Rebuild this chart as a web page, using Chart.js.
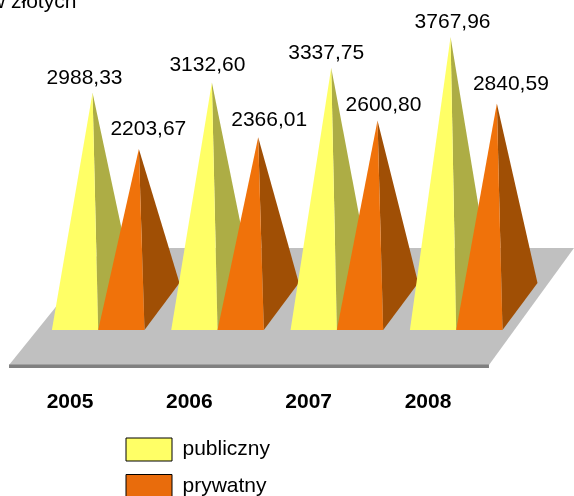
<!DOCTYPE html>
<html lang="pl">
<head>
<meta charset="utf-8">
<style>html,body{margin:0;padding:0;background:#fff}canvas{display:block}</style>
<script src="https://cdn.jsdelivr.net/npm/chart.js@4/dist/chart.umd.js"></script>
</head>
<body>
<canvas id="c" width="574" height="496"></canvas>
<script>
const years = ['2005', '2006', '2007', '2008'];
const publiczny = [2988.33, 3132.60, 3337.75, 3767.96];
const prywatny = [2203.67, 2366.01, 2600.80, 2840.59];
const unitNote = 'w złotych';

const FONT = '"Liberation Sans", Arial, sans-serif';
const palette = [
  { front: '#FFFF66', side: '#ADAD45' },
  { front: '#F0720A', side: '#A04F05' }
];
// hand-placed label offsets relative to each apex (dx, dy of the text centre)
const labelShift = [
  [[-8, -15], [-4.5, -17.5], [-5, -15], [2, -15]],
  [[9.5, -20], [11, -17], [6, -15], [14, -19]]
];

// 3D look of the pyramids and the floor
const frontX = 28.2, frontY = 35, depthX = 35, depthY = 47;

function fmt(v) { return v.toFixed(2).replace('.', ','); }

function poly(ctx, pts, color) {
  ctx.fillStyle = color;
  ctx.beginPath();
  pts.forEach((p, i) => i ? ctx.lineTo(p[0], p[1]) : ctx.moveTo(p[0], p[1]));
  ctx.closePath();
  ctx.fill();
}

// bars are painted as pyramids by the plugin, group by group
Chart.BarElement.prototype.draw = function () {};

const pyramids = {
  id: 'pyramids',
  afterLayout(chart) {
    const lg = chart.legend;
    lg.left = 112.5; lg.right = 400; lg.top = 424.5; lg.bottom = 640;
  },
  beforeDatasetsDraw(chart) {
    const { ctx, chartArea: a } = chart;
    const y0 = a.bottom;
    poly(ctx, [[a.left - 1.3, y0], [a.left + 93, y0 - 117], [574, y0 - 117], [a.right + 1.3, y0]], '#C0C0C0');
    poly(ctx, [[a.left - 1.3, y0 - 0.5], [a.right + 1.3, y0 - 0.5], [a.right + 1.3, y0 + 3], [a.left - 1.3, y0 + 3]], '#808080');
  },
  afterDatasetsDraw(chart) {
    const { ctx } = chart;
    const metas = [chart.getDatasetMeta(0), chart.getDatasetMeta(1)];
    years.forEach((_, i) => {
      metas.forEach((m, d) => {
        const el = m.data[i];
        const half = el.width / 2;
        const cx = el.x + frontX;
        const by = el.base - frontY;
        const ax = cx + depthX / 2;
        const ay = el.y - frontY - depthY / 2;
        poly(ctx, [[ax, ay], [cx + half, by], [cx + half + depthX, by - depthY]], palette[d].side);
        poly(ctx, [[ax, ay], [cx - half, by], [cx + half, by]], palette[d].front);
      });
    });
    ctx.fillStyle = '#000';
    ctx.font = '21px ' + FONT;
    ctx.textAlign = 'center';
    ctx.textBaseline = 'middle';
    metas.forEach((m, d) => {
      m.data.forEach((el, i) => {
        const ax = el.x + frontX + depthX / 2;
        const ay = el.y - frontY - depthY / 2;
        const s = labelShift[d][i];
        const v = chart.data.datasets[d].data[i];
        ctx.fillText(fmt(v), ax + s[0], ay + s[1]);
      });
    });
    ctx.textAlign = 'left';
    ctx.textBaseline = 'alphabetic';
    ctx.fillText(unitNote, -10, 8);
  }
};

new Chart(document.getElementById('c'), {
  type: 'bar',
  data: {
    labels: years,
    datasets: [
      { label: 'publiczny', data: publiczny, backgroundColor: '#FFFF66', borderColor: '#000', borderWidth: 1 },
      { label: 'prywatny', data: prywatny, backgroundColor: '#E96C0C', borderColor: '#000', borderWidth: 1 }
    ]
  },
  plugins: [pyramids],
  options: {
    responsive: false,
    animation: false,
    events: [],
    categoryPercentage: 0.776,
    barPercentage: 1,
    layout: { padding: { left: 10.33, right: 86.33, top: 79, bottom: 56 } },
    scales: {
      x: {
        grid: { display: false, drawTicks: false },
        border: { display: false },
        ticks: {
          color: '#000',
          padding: 27,
          maxRotation: 0,
          font: { family: FONT, size: 21, weight: 'bold', lineHeight: 1 }
        }
      },
      y: { display: false, min: 0, max: 4000 }
    },
    plugins: {
      title: { display: false },
      tooltip: { enabled: false },
      legend: {
        position: 'chartArea',
        align: 'start',
        labels: {
          color: '#000',
          boxWidth: 46,
          boxHeight: 23,
          padding: 13.5,
          font: { family: FONT, size: 21 }
        }
      }
    }
  }
});
</script>
</body>
</html>
